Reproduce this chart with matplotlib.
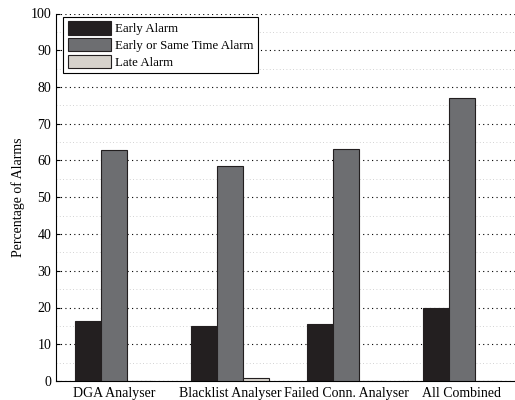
import numpy as np
import matplotlib.pyplot as plt
from matplotlib.ticker import MultipleLocator

plt.rcParams['font.family'] = ['Liberation Serif', 'DejaVu Serif']

categories = ['DGA Analyser', 'Blacklist Analyser', 'Failed Conn. Analyser', 'All Combined']
series_names = ['Early Alarm', 'Early or Same Time Alarm', 'Late Alarm']
early = [16.2, 15.0, 15.4, 19.9]
early_same = [62.9, 58.6, 63.0, 77.1]
late = [0.0, 0.9, 0.0, 0.0]
colors = ['#231f20', '#6d6e71', '#d6d2cc']

fig = plt.figure(figsize=(5.15, 4.0), dpi=100)
ax = fig.add_axes([56/515, 19/400, 464/515, 367.5/400])

x = np.arange(1, len(categories) + 1)
w = 0.225
for i, (vals, name) in enumerate(zip([early, early_same, late], series_names)):
    ax.bar(x + (i - 1) * w, vals, w, color=colors[i], edgecolor='#231f20',
           linewidth=0.8, label=name, zorder=3)

ax.set_xlim(0.5, 4.5)
ax.set_ylim(0, 100)
ax.set_xticks(x)
ax.set_xticklabels(categories, fontsize=10)
ax.yaxis.set_major_locator(MultipleLocator(10))
ax.yaxis.set_minor_locator(MultipleLocator(5))
ax.tick_params(axis='y', which='major', direction='in', length=3, labelsize=10)
ax.tick_params(axis='y', which='minor', length=0)
ax.tick_params(axis='x', length=0, labelsize=10, pad=4)
ax.grid(axis='y', which='major', linestyle=(0, (1, 3)), color='black', linewidth=0.8, zorder=0)
ax.grid(axis='y', which='minor', linestyle=(0, (1, 3)), color='#c4c4c4', linewidth=0.6, zorder=0)
ax.spines['top'].set_visible(False)
ax.spines['right'].set_visible(False)
ax.set_ylabel('Percentage of Alarms', fontsize=10, labelpad=4)

leg = ax.legend(loc='upper left', bbox_to_anchor=(7/464, 1 - 3/367.5),
                fontsize=9.3, frameon=True, fancybox=False,
                edgecolor='black', handlelength=3.4, handleheight=1.25,
                borderaxespad=0, handletextpad=0.3, labelspacing=0.2,
                borderpad=0.35, framealpha=1)
leg.get_frame().set_linewidth(0.8)

fig.savefig('out.png', dpi=100)
